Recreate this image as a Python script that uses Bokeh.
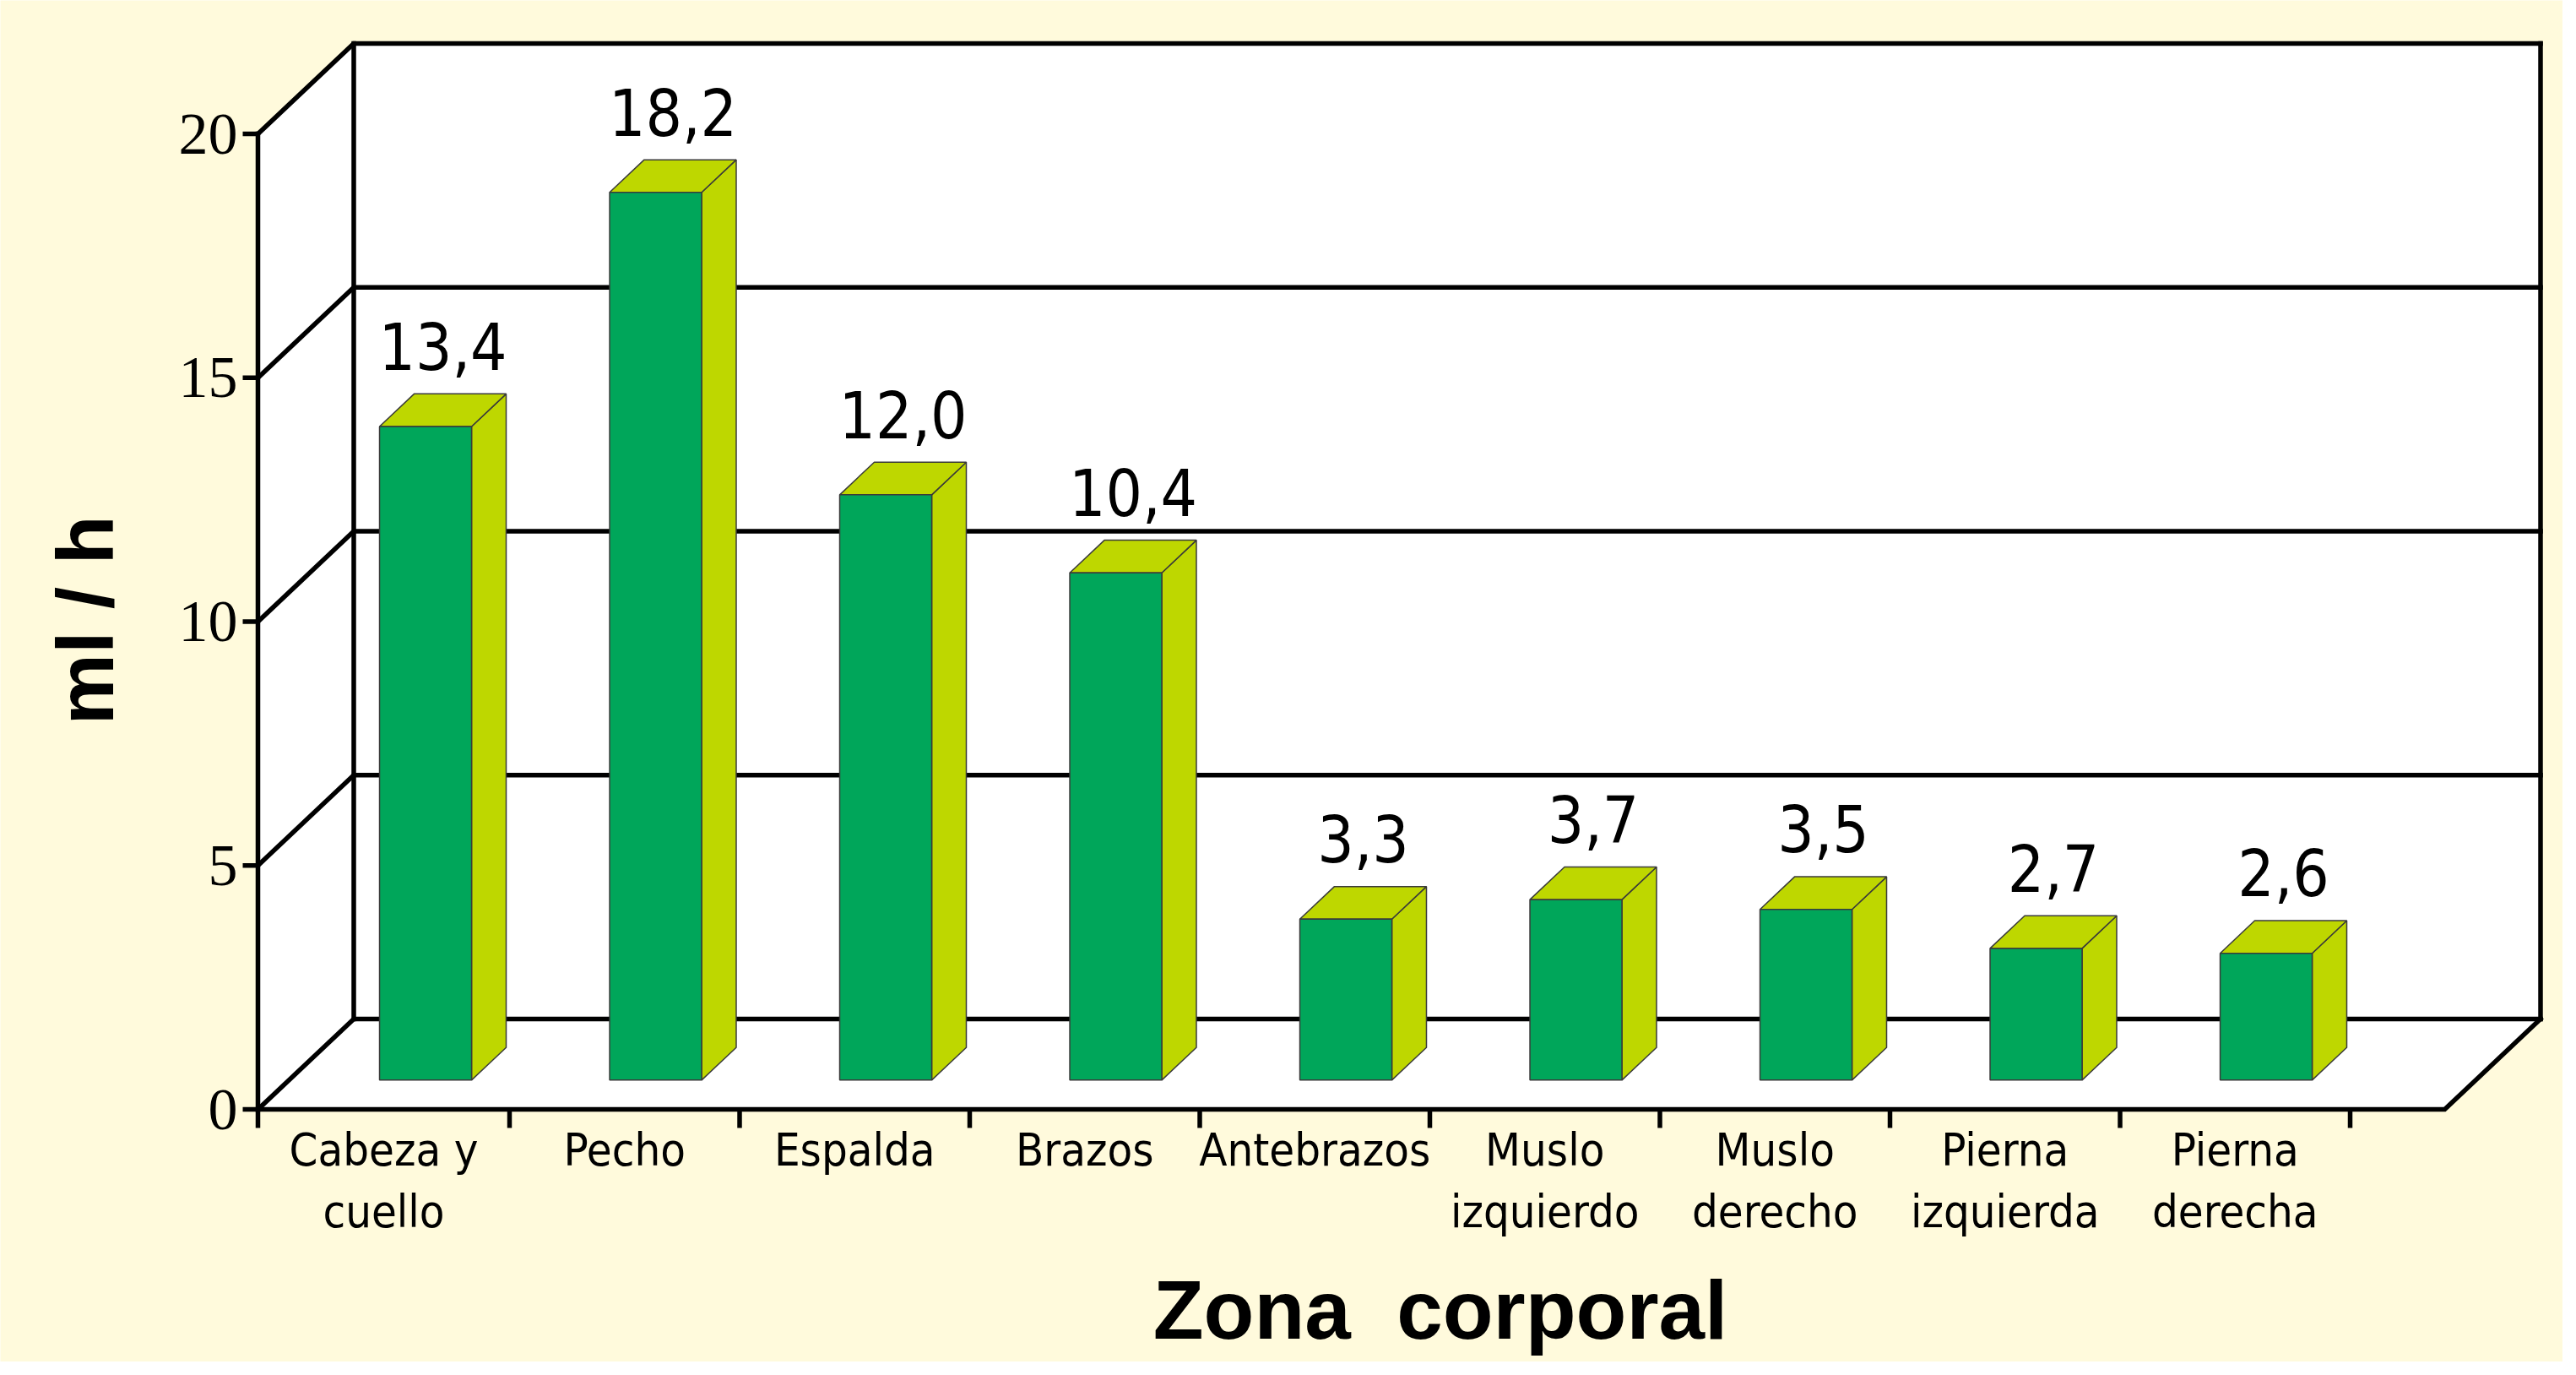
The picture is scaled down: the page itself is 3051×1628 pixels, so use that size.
import math
from bokeh.plotting import figure
from bokeh.models import Range1d
from bokeh.core.properties import value
from bokeh.embed import file_html
from bokeh.resources import INLINE

# ---------------- data ----------------
categories = ["Cabeza y\ncuello", "Pecho", "Espalda", "Brazos", "Antebrazos",
              "Muslo\nizquierdo", "Muslo\nderecho", "Pierna\nizquierda", "Pierna\nderecha"]
values = [13.4, 18.2, 12.0, 10.4, 3.3, 3.7, 3.5, 2.7, 2.6]
y_ticks = [0, 5, 10, 15, 20]
y_tick_labels = ["0", "5", "10", "15", "20"]
y_title = "ml / h"
x_title = "Zona \u00a0corporal"

# ---------------- styles / layout ----------------
BG = "#FFFADC"
FRONT = "#00A65A"
SIDE = "#BED700"
EDGE = "#3a3a3a"
NARROW = "DejaVu Sans Condensed"

W, H = 3035, 1612
PXC = 272.5          # pixels per category
PYU = 57.75          # pixels per value unit
X0 = -330.5 / PXC
Y1 = 1313 / PYU

p = figure(width=W, height=H,
           x_range=Range1d(X0, X0 + W / PXC), y_range=Range1d(Y1 - H / PYU, Y1),
           x_axis_type=None, y_axis_type=None, min_border=0,
           toolbar_location=None, output_backend="svg",
           background_fill_color=BG, border_fill_color=BG, outline_line_color=None)

n = len(categories)
DX = 113.5 / PXC     # depth offset (x, category units)
DY = 107 / PYU       # depth offset (y, value units)
XA = -25.5 / PXC     # front value axis position
XR = n + 112 / PXC   # right end of front floor edge
F0, F1 = 0.324, 0.685
BW = 0.40
YMAX = y_ticks[-1]
LW = 5.5

# walls and floor
p.patches(xs=[[XA, XA + DX, XA + DX, XA],
              [XA + DX, XR + DX, XR + DX, XA + DX],
              [XA, XR, XR + DX, XA + DX]],
          ys=[[0, DY, YMAX + DY, YMAX],
              [DY, DY, YMAX + DY, YMAX + DY],
              [0, 0, DY, DY]],
          fill_color="white", line_color=None)

# grid lines (back wall + left wall)
gx, gy = [], []
for t in y_ticks:
    gx.append([XA, XA + DX, XR + DX]); gy.append([t, t + DY, t + DY])
gx.append([XA + DX, XA + DX]); gy.append([DY, YMAX + DY])
gx.append([XR + DX, XR + DX]); gy.append([DY, YMAX + DY])
gx.append([XA, XR, XR + DX]); gy.append([0, 0, DY])
gx.append([XA, XA]); gy.append([0, YMAX])
p.multi_line(xs=gx, ys=gy, line_color="black", line_width=LW,
             line_join="miter", line_cap="square")

# ticks
p.segment(x0=[XA - 18 / PXC] * len(y_ticks), x1=[XA] * len(y_ticks),
          y0=y_ticks, y1=y_ticks, line_color="black", line_width=LW)
bounds = [XA] + list(range(1, n + 1))
p.segment(x0=bounds, x1=bounds, y0=[0] * len(bounds), y1=[-22 / PYU] * len(bounds),
          line_color="black", line_width=LW)

# bars
dd = (F1 - F0) * DX
de = (F1 - F0) * DY
lefts, rights, bots, tops = [], [], [], []
sx, sy, tx, ty = [], [], [], []
for i, v in enumerate(values):
    cx = i + 0.5
    l = cx - BW / 2 + F0 * DX
    r = l + BW
    b = F0 * DY
    t = v + F0 * DY
    lefts.append(l); rights.append(r); bots.append(b); tops.append(t)
    sx.append([r, r + dd, r + dd, r]); sy.append([b, b + de, t + de, t])
    tx.append([l, r, r + dd, l + dd]); ty.append([t, t, t + de, t + de])
p.patches(xs=sx, ys=sy, fill_color=SIDE, line_color=EDGE, line_width=1.5)
p.patches(xs=tx, ys=ty, fill_color=SIDE, line_color=EDGE, line_width=1.5)
p.quad(left=lefts, right=rights, bottom=bots, top=tops,
       fill_color=FRONT, line_color=EDGE, line_width=1.5)

# value labels
VFS = 76
p.text(x=[i + 0.5 + (F0 + F1) / 2 * DX for i in range(n)],
       y=[v + F1 * DY + (30 + 0.35 * VFS) / PYU for v in values],
       text=[f"{v:.1f}".replace(".", ",") for v in values],
       text_align="center", text_baseline="middle",
       text_font=value(NARROW), text_font_size=f"{VFS}px", text_color="black")

# y tick labels
p.text(x=[XA - 24 / PXC] * len(y_ticks), y=y_ticks, text=y_tick_labels,
       text_align="right", text_baseline="middle",
       text_font=value("Liberation Serif"), text_font_size="70px", text_color="black")

# category labels
mids = [(bounds[k] + bounds[k + 1]) / 2 for k in range(n)]
p.text(x=mids, y=[-16 / PYU] * n, text=categories,
       text_align="center", text_baseline="top", text_line_height=1.16,
       text_font=value(NARROW), text_font_size="54px", text_color="black")

# axis titles
p.text(x=[X0 + 100 / PXC], y=[Y1 - 734 / PYU], text=[y_title], angle=math.pi / 2,
       text_align="center", text_baseline="middle",
       text_font=value("Liberation Sans"), text_font_style="bold",
       text_font_size="95px", text_color="black")
p.text(x=[X0 + 1705.5 / PXC], y=[Y1 - 1550 / PYU], text=[x_title],
       text_align="center", text_baseline="middle",
       text_font=value("Liberation Sans"), text_font_style="bold",
       text_font_size="98px", text_color="black")

open("out.html", "w").write(file_html(p, INLINE))
